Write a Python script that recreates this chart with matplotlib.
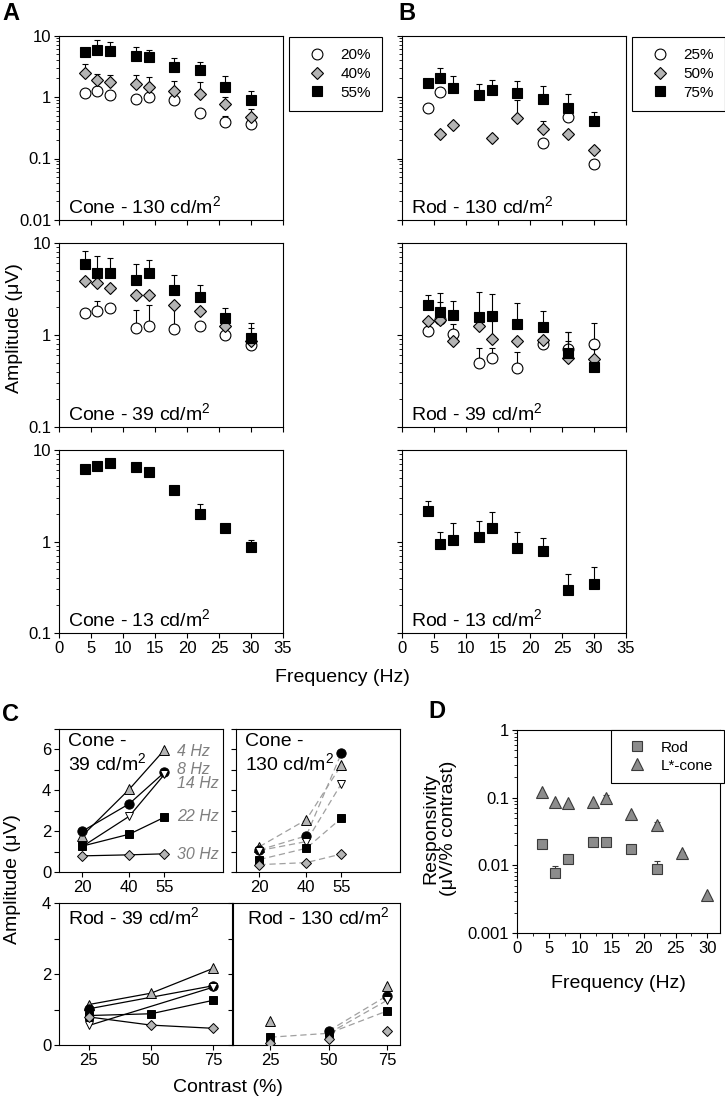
import numpy as np
import matplotlib
matplotlib.use('Agg')
import matplotlib.pyplot as plt
from matplotlib import ticker
from matplotlib.lines import Line2D

nan = np.nan

# ---------------- data ----------------
freqs = [4, 6, 8, 12, 14, 18, 22, 26, 30]

# A: cone, 130 cd/m2 (contrast 20 / 40 / 55 %), mean and upper SEM
c130_20 = [1.18, 1.24, 1.08, 0.94, 1.01, 0.89, 0.55, 0.39, 0.37]
c130_20_sem = [nan, nan, nan, nan, nan, nan, nan, 0.10, nan]
c130_40 = [2.5, 1.9, 1.76, 1.63, 1.44, 1.24, 1.12, 0.78, 0.48]
c130_40_sem = [0.9, 0.5, 0.54, 0.63, 0.71, 0.56, 0.64, 0.22, 0.15]
c130_55 = [5.3, 5.9, 5.7, 4.7, 4.4, 3.1, 2.7, 1.46, 0.89]
c130_55_sem = [1.0, 2.4, 2.0, 1.7, 1.5, 1.2, 1.0, 0.74, 0.36]

# A: cone, 39 cd/m2
c39_20 = [1.72, 1.83, 1.97, 1.18, 1.25, 1.15, 1.25, 1.0, 0.78]
c39_20_sem = [nan, 0.54, nan, 0.71, 0.89, 0.8, nan, nan, nan]
c39_40 = [3.9, 3.66, 3.26, 2.73, 2.69, 2.12, 1.81, 1.24, 0.87]
c39_40_sem = [nan, nan, nan, nan, nan, nan, nan, nan, 0.33]
c39_55 = [5.85, 4.75, 4.75, 4.0, 4.7, 3.05, 2.6, 1.53, 0.93]
c39_55_sem = [2.35, 2.45, 2.05, 1.9, 1.9, 1.45, 0.9, 0.42, 0.43]

# A: cone, 13 cd/m2
c13 = [6.2, 6.74, 7.14, 6.57, 5.74, 3.65, 1.99, 1.39, 0.87]
c13_sem = [nan, nan, nan, nan, nan, nan, 0.55, nan, 0.16]

# B: rod, 130 cd/m2 (contrast 25 / 50 / 75 %)
r130_25 = [0.66, 1.19, nan, nan, nan, nan, 0.177, 0.48, 0.082]
r130_25_sem = [nan, nan, nan, nan, nan, nan, nan, 0.25, nan]
r130_50 = [nan, 0.254, 0.357, nan, 0.216, 0.45, 0.30, 0.248, 0.139]
r130_50_sem = [nan, nan, nan, nan, nan, 0.43, 0.11, nan, nan]
r130_75 = [1.7, 2.05, 1.4, 1.08, 1.29, 1.16, 0.94, 0.66, 0.40]
r130_75_sem = [nan, 0.95, 0.78, 0.57, 0.63, 0.69, 0.57, 0.46, 0.16]

# B: rod, 39 cd/m2
r39_25 = [1.1, 1.48, 1.03, 0.50, 0.56, 0.44, 0.79, 0.71, 0.80]
r39_25_sem = [nan, nan, 0.28, 0.23, 0.16, 0.22, nan, 0.37, 0.55]
r39_50 = [1.41, 1.47, 0.86, 1.26, 0.90, 0.86, 0.88, 0.56, 0.55]
r39_50_sem = [nan, 0.82, nan, nan, 0.53, nan, nan, 0.31, 0.15]
r39_75 = [2.11, 1.8, 1.64, 1.58, 1.61, 1.31, 1.23, 0.64, 0.45]
r39_75_sem = [0.64, 1.07, 0.69, 1.34, 1.19, 0.89, 0.58, 0.44, nan]

# B: rod, 13 cd/m2
r13 = [2.13, 0.95, 1.05, 1.11, 1.39, 0.85, 0.78, 0.293, 0.34]
r13_sem = [0.64, 0.31, 0.56, 0.55, 0.69, 0.43, 0.30, 0.147, 0.18]

# C: amplitude vs contrast, rows = 4, 8, 14, 22, 30 Hz
c_labels = ['4 Hz', '8 Hz', '14 Hz', '22 Hz', '30 Hz']
cone_contrast = [20, 40, 55]
rod_contrast = [25, 50, 75]
cC_cone39 = [[1.78, 4.05, 5.98], [2.0, 3.34, 4.88], [1.25, 2.73, 4.78],
             [1.27, 1.85, 2.68], [0.79, 0.84, 0.89]]
cC_cone130 = [[1.24, 2.56, 5.24], [1.08, 1.77, 5.82], [1.05, 1.49, 4.33],
              [0.61, 1.16, 2.64], [0.36, 0.46, 0.88]]
cC_rod39 = [[1.14, 1.46, 2.16], [1.02, nan, 1.67], [0.55, nan, 1.63],
            [0.83, 0.88, 1.26], [0.79, 0.56, 0.47]]
cC_rod130 = [[0.68, nan, 1.67], [nan, 0.40, 1.39], [nan, 0.33, 1.26],
             [0.22, 0.33, 0.96], [0.07, 0.17, 0.40]]

# D: responsivity (uV / % contrast)
rod_resp = [0.0207, 0.0076, 0.0125, 0.022, 0.022, 0.0176, 0.0088, nan, nan]
rod_resp_sem = [0.0012, 0.0021, nan, 0.0043, 0.0016, nan, 0.0028, nan, nan]
cone_resp = [0.123, 0.085, 0.082, 0.085, 0.10, 0.057, 0.040, 0.015, 0.0037]
cone_resp_sem = [nan, nan, nan, nan, 0.008, nan, 0.004, 0.001, nan]

# ---------------- style ----------------
plt.rcParams['font.family'] = ['Liberation Sans', 'DejaVu Sans']
plt.rcParams['mathtext.fontset'] = 'custom'
plt.rcParams['mathtext.rm'] = 'Liberation Sans'
plt.rcParams['mathtext.it'] = 'Liberation Sans:italic'
plt.rcParams['axes.linewidth'] = 0.8

W, H = 725, 1100
fig = plt.figure(figsize=(W / 100, H / 100), dpi=100)


def add_px(x0, y0, x1, y1):
    return fig.add_axes([x0 / W, 1 - y1 / H, (x1 - x0) / W, (y1 - y0) / H])


GRAY = '#b4b4b4'
STY = {
    'circle': dict(marker='o', ms=7.8, mfc='white', mec='black', mew=0.8),
    'diamond': dict(marker='D', ms=6.3, mfc=GRAY, mec='black', mew=0.8),
    'square': dict(marker='s', ms=7.0, mfc='black', mec='black', mew=0.8),
}
TICK = 12
LAB = 14


def draw_series(ax, x, y, sem, sty, z):
    x = np.asarray(x, float)
    y = np.asarray(y, float)
    sem = np.asarray(sem, float)
    m = ~np.isnan(sem) & ~np.isnan(y)
    if m.any():
        ax.errorbar(x[m], y[m], yerr=[np.zeros(m.sum()), sem[m]], fmt='none',
                    ecolor='black', elinewidth=0.8, capsize=2.5, capthick=0.8, zorder=z)
    ax.plot(x, y, linestyle='none', zorder=z + 0.5, **STY[sty])


def log_axis(ax, ylim, show_y, show_x):
    ax.set_yscale('log')
    ax.set_ylim(*ylim)
    ax.set_xlim(0, 35)
    ax.set_xticks(range(0, 36, 5))
    ax.yaxis.set_major_formatter(ticker.FuncFormatter(lambda v, p: '%g' % v))
    ax.yaxis.set_minor_locator(ticker.LogLocator(subs=np.arange(2, 10)))
    ax.yaxis.set_minor_formatter(ticker.NullFormatter())
    ax.tick_params(which='major', direction='out', length=3.5, width=0.8, labelsize=TICK, pad=2)
    ax.tick_params(which='minor', direction='out', length=2, width=0.6)
    ax.tick_params(labelleft=show_y, labelbottom=show_x)


rows = [(35.5, 220), (243, 427), (450, 633)]
colA = (59, 283)
colB = (402, 626)

panels = [
    (colA, rows[0], (0.01, 10), 'Cone - 130 cd/m$^2$',
     [(c130_20, c130_20_sem, 'circle'), (c130_40, c130_40_sem, 'diamond'), (c130_55, c130_55_sem, 'square')]),
    (colB, rows[0], (0.01, 10), 'Rod - 130 cd/m$^2$',
     [(r130_25, r130_25_sem, 'circle'), (r130_50, r130_50_sem, 'diamond'), (r130_75, r130_75_sem, 'square')]),
    (colA, rows[1], (0.1, 10), 'Cone - 39 cd/m$^2$',
     [(c39_20, c39_20_sem, 'circle'), (c39_40, c39_40_sem, 'diamond'), (c39_55, c39_55_sem, 'square')]),
    (colB, rows[1], (0.1, 10), 'Rod - 39 cd/m$^2$',
     [(r39_25, r39_25_sem, 'circle'), (r39_50, r39_50_sem, 'diamond'), (r39_75, r39_75_sem, 'square')]),
    (colA, rows[2], (0.1, 10), 'Cone - 13 cd/m$^2$', [(c13, c13_sem, 'square')]),
    (colB, rows[2], (0.1, 10), 'Rod - 13 cd/m$^2$', [(r13, r13_sem, 'square')]),
]

axes_ab = []
for i, (col, row, ylim, title, series) in enumerate(panels):
    ax = add_px(col[0], row[0], col[1], row[1])
    log_axis(ax, ylim, show_y=(col == colA), show_x=(row == rows[2]))
    for k, (vals, sem, sty) in enumerate(series):
        draw_series(ax, freqs, vals, sem, sty, 2 + k)
    ax.text(0.04, 0.038, title, transform=ax.transAxes, fontsize=LAB, va='baseline', ha='left')
    axes_ab.append(ax)


def legend_for(ax, labels):
    handles = [Line2D([], [], linestyle='none', **STY[s]) for s in ['circle', 'diamond', 'square']]
    leg = ax.legend(handles, labels, loc='upper left', bbox_to_anchor=(1.027, 0.992),
                    borderaxespad=0, frameon=True, fancybox=False, framealpha=1,
                    edgecolor='black', fontsize=11, borderpad=0.75, handlelength=2.2,
                    handletextpad=0.4, labelspacing=0.3, numpoints=1)
    leg.get_frame().set_linewidth(0.8)


legend_for(axes_ab[0], ['20%', '40%', '55%'])
legend_for(axes_ab[1], ['25%', '50%', '75%'])

fig.text(14.5 / W, 1 - 328 / H, 'Amplitude (\u03bcV)', rotation=90, ha='center', va='center', fontsize=LAB)
fig.text(342 / W, 1 - 677 / H, 'Frequency (Hz)', ha='center', va='center', fontsize=LAB)

# ---------------- C ----------------
C_STY = [
    dict(marker='^', ms=7.0, mfc=GRAY, mec='black', mew=0.7),
    dict(marker='o', ms=6.7, mfc='black', mec='black', mew=0.7),
    dict(marker='v', ms=6.0, mfc='white', mec='black', mew=0.7),
    dict(marker='s', ms=5.6, mfc='black', mec='black', mew=0.7),
    dict(marker='D', ms=5.0, mfc=GRAY, mec='black', mew=0.7),
]


def c_panel(box, data, xvals, xlim, ylim, yt_major, title, title_x, dashed,
            connect_gaps, no_line=(), show_y=True):
    ax = add_px(*box)
    for k, row in enumerate(data):
        xv = np.asarray(xvals, float)
        yv = np.asarray(row, float)
        if k not in no_line:
            if connect_gaps:
                m = ~np.isnan(yv)
                lx, ly = xv[m], yv[m]
            else:
                lx, ly = xv, yv
            if dashed:
                ax.plot(lx, ly, color='#a0a0a0', lw=0.9, dashes=(5, 3), zorder=2)
            else:
                ax.plot(lx, ly, color='black', lw=0.9, zorder=2)
        ax.plot(xv, yv, linestyle='none', zorder=3 + k, **C_STY[k])
    ax.set_xlim(*xlim)
    ax.set_ylim(*ylim)
    ax.set_xticks(xvals)
    ax.set_yticks(yt_major)
    ax.yaxis.set_minor_locator(ticker.MultipleLocator(1))
    ax.tick_params(which='both', direction='out', length=3.5, width=0.8, labelsize=TICK, pad=2)
    ax.tick_params(labelleft=show_y)
    ax.text(title_x, 0.975, title, transform=ax.transAxes, fontsize=LAB, va='top', ha='left',
            linespacing=1.15)
    return ax


axC1 = c_panel((59, 729, 223, 872), cC_cone39, cone_contrast, (10, 80), (0, 7), [0, 2, 4, 6],
               'Cone -\n39 cd/m$^2$', 0.055, False, False)
axC2 = c_panel((236, 729, 400, 872), cC_cone130, cone_contrast, (10, 80), (0, 7), [0, 2, 4, 6],
               'Cone -\n130 cd/m$^2$', 0.055, True, False, show_y=False)
axC3 = c_panel((59, 903, 232, 1045), cC_rod39, rod_contrast, (13, 82.5), (0, 4), [0, 2, 4],
               'Rod - 39 cd/m$^2$', 0.052, False, True)
axC4 = c_panel((233, 903, 400, 1045), cC_rod130, rod_contrast, (9, 80.5), (0, 4), [0, 2, 4],
               'Rod - 130 cd/m$^2$', 0.083, True, False, no_line=(4,), show_y=False)

hz_y = [5.9, 5.03, 4.34, 2.71, 0.88]
for lab, yy in zip(c_labels, hz_y):
    axC1.text(60.5, yy, lab, fontsize=11.5, style='italic', color='#808080', va='center', ha='left')

fig.text(13 / W, 1 - 879 / H, 'Amplitude (\u03bcV)', rotation=90, ha='center', va='center', fontsize=LAB)
fig.text(228 / W, 1 - 1088 / H, 'Contrast (%)', ha='center', va='center', fontsize=LAB)

# ---------------- D ----------------
axD = add_px(517, 730, 720, 933)
D_SQ = dict(marker='s', ms=7, mfc='#8c8c8c', mec='#3a3a3a', mew=0.8)
D_TR = dict(marker='^', ms=8, mfc='#8c8c8c', mec='#3a3a3a', mew=0.8)
for vals, sem, sty, z in [(rod_resp, rod_resp_sem, D_SQ, 2), (cone_resp, cone_resp_sem, D_TR, 4)]:
    x = np.asarray(freqs, float)
    y = np.asarray(vals, float)
    s = np.asarray(sem, float)
    m = ~np.isnan(s) & ~np.isnan(y)
    axD.errorbar(x[m], y[m], yerr=[np.zeros(m.sum()), s[m]], fmt='none', ecolor='#3a3a3a',
                 elinewidth=0.8, capsize=2.5, capthick=0.8, zorder=z)
    axD.plot(x, y, linestyle='none', zorder=z + 0.5, **sty)
axD.set_yscale('log')
axD.set_ylim(0.001, 1)
axD.set_xlim(0, 32)
axD.set_xticks(range(0, 31, 5))
axD.xaxis.set_minor_locator(ticker.MultipleLocator(2.5))
axD.yaxis.set_major_formatter(ticker.FuncFormatter(lambda v, p: '%g' % v))
axD.yaxis.set_minor_locator(ticker.LogLocator(subs=np.arange(2, 10)))
axD.yaxis.set_minor_formatter(ticker.NullFormatter())
axD.tick_params(which='major', direction='out', length=3.5, width=0.8, labelsize=TICK, pad=2)
axD.tick_params(which='minor', direction='out', length=2, width=0.6)
legD = axD.legend([Line2D([], [], linestyle='none', **D_SQ), Line2D([], [], linestyle='none', **D_TR)],
                  ['Rod', 'L*-cone'], loc='upper right', bbox_to_anchor=(1.02, 1.0),
                  borderaxespad=0, frameon=True, fancybox=False, framealpha=1, edgecolor='black',
                  fontsize=11, borderpad=0.7, handlelength=2.0, handletextpad=0.6,
                  labelspacing=0.25, numpoints=1)
legD.get_frame().set_linewidth(0.8)
fig.text(440 / W, 1 - 828 / H, 'Responsivity\n(\u03bcV/% contrast)', rotation=90, ha='center',
         va='center', fontsize=LAB, multialignment='center', linespacing=1.05)
fig.text(618 / W, 1 - 983 / H, 'Frequency (Hz)', ha='center', va='center', fontsize=LAB)

# panel letters
for lx, ly, letter in [(2, 2, 'A'), (398, 2, 'B'), (2, 703, 'C'), (428, 700, 'D')]:
    fig.text(lx / W, 1 - ly / H, letter, fontsize=17, fontweight='bold', ha='left', va='top')

fig.savefig('out.png', dpi=100)
